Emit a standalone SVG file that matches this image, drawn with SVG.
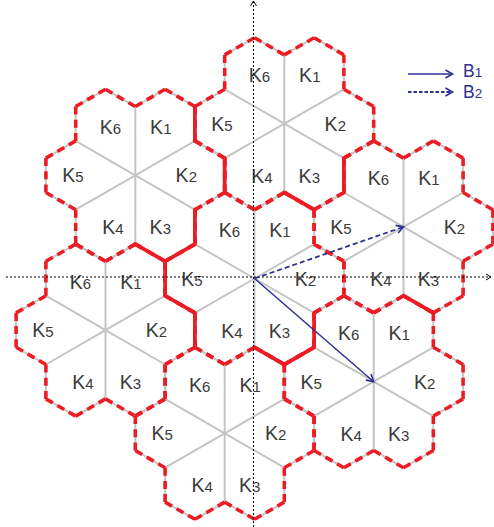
<svg xmlns="http://www.w3.org/2000/svg" width="494" height="527" viewBox="0 0 494 527">
<style>
.lbl{font-family:"Liberation Sans",Arial,sans-serif;font-size:19.5px;fill:#3a3a3a;text-anchor:middle}
.d{font-size:15px}
.leg{font-family:"Liberation Sans",Arial,sans-serif;font-size:17.5px;fill:#2e3192}
.legd{font-size:13.5px}
.solid{fill:none;stroke:#ec1c24;stroke-width:3.8;stroke-linecap:round;stroke-linejoin:round}
.axis{fill:none;stroke:#000;stroke-width:1;stroke-dasharray:2 2}
.vec{fill:none;stroke:#2e3192;stroke-width:1.5}
.vecd{fill:none;stroke:#2e3192;stroke-width:1.8;stroke-dasharray:5 3}
.legdash{fill:none;stroke:#2e3192;stroke-width:1.8;stroke-dasharray:3.5 2}
</style>
<defs>
<marker id="ah" viewBox="-10 -6 12 12" refX="0" refY="0" markerWidth="12" markerHeight="12" markerUnits="userSpaceOnUse" orient="auto">
<path d="M-7,-4 L0,0 L-7,4" fill="none" stroke="#2e3192" stroke-width="1.6" stroke-dasharray="none"/>
</marker>
<marker id="axh" viewBox="-8 -5 10 10" refX="0" refY="0" markerWidth="10" markerHeight="10" markerUnits="userSpaceOnUse" orient="auto">
<path d="M-5,-3 L0,0 L-5,3" fill="none" stroke="#000" stroke-width="1" stroke-dasharray="none"/>
</marker>
<path id="spokes" d="M0 0L0 -68.8M0 0L59.6 -34.4M0 0L59.6 34.4M0 0L0 68.8M0 0L-59.6 34.4M0 0L-59.6 -34.4" fill="none" stroke="#c4c4c4" stroke-width="2"/>
<polygon id="outline" points="0,-68.8 29.8,-86 59.6,-68.8 59.6,-34.4 89.4,-17.2 89.4,17.2 59.6,34.4 59.6,68.8 29.8,86 0,68.8 -29.8,86 -59.6,68.8 -59.6,34.4 -89.4,17.2 -89.4,-17.2 -59.6,-34.4 -59.6,-68.8 -29.8,-86" fill="none" stroke="#c4c4c4" stroke-width="2" stroke-linejoin="round"/>
<path id="dash" d="M0 -68.8L29.8 -86M29.8 -86L59.6 -68.8M59.6 -68.8L59.6 -34.4M59.6 -34.4L89.4 -17.2M89.4 -17.2L89.4 17.2M89.4 17.2L59.6 34.4M59.6 34.4L59.6 68.8M59.6 68.8L29.8 86M29.8 86L0 68.8M0 68.8L-29.8 86M-29.8 86L-59.6 68.8M-59.6 68.8L-59.6 34.4M-59.6 34.4L-89.4 17.2M-89.4 17.2L-89.4 -17.2M-89.4 -17.2L-59.6 -34.4M-59.6 -34.4L-59.6 -68.8M-59.6 -68.8L-29.8 -86M-29.8 -86L0 -68.8" fill="none" stroke="#ec1c24" stroke-width="3.6" stroke-dasharray="8 5.2"/>
</defs>
<rect x="0" y="0" width="494" height="527" fill="#fff"/>

<g id="cluster-center" transform="translate(254.5,278.5)">
<use href="#spokes"/><use href="#outline"/><use href="#dash"/>
<text class="lbl" x="-25" y="-41.5">K<tspan class="d">6</tspan></text>
<text class="lbl" x="25.5" y="-41.5">K<tspan class="d">1</tspan></text>
<text class="lbl" x="-62.5" y="7">K<tspan class="d">5</tspan></text>
<text class="lbl" x="51" y="7">K<tspan class="d">2</tspan></text>
<text class="lbl" x="-22.5" y="59">K<tspan class="d">4</tspan></text>
<text class="lbl" x="25" y="59">K<tspan class="d">3</tspan></text>
</g>

<g id="cluster-right" transform="translate(403.5,226.9)">
<use href="#spokes"/><use href="#outline"/><use href="#dash"/>
<text class="lbl" x="-25" y="-41.5">K<tspan class="d">6</tspan></text>
<text class="lbl" x="25.5" y="-41.5">K<tspan class="d">1</tspan></text>
<text class="lbl" x="-62.5" y="7">K<tspan class="d">5</tspan></text>
<text class="lbl" x="51" y="7">K<tspan class="d">2</tspan></text>
<text class="lbl" x="-22.5" y="59">K<tspan class="d">4</tspan></text>
<text class="lbl" x="25" y="59">K<tspan class="d">3</tspan></text>
</g>

<g id="cluster-top" transform="translate(284.3,123.7)">
<use href="#spokes"/><use href="#outline"/><use href="#dash"/>
<text class="lbl" x="-25" y="-41.5">K<tspan class="d">6</tspan></text>
<text class="lbl" x="25.5" y="-41.5">K<tspan class="d">1</tspan></text>
<text class="lbl" x="-62.5" y="7">K<tspan class="d">5</tspan></text>
<text class="lbl" x="51" y="7">K<tspan class="d">2</tspan></text>
<text class="lbl" x="-22.5" y="59">K<tspan class="d">4</tspan></text>
<text class="lbl" x="25" y="59">K<tspan class="d">3</tspan></text>
</g>

<g id="cluster-upper-left" transform="translate(135.3,175.3)">
<use href="#spokes"/><use href="#outline"/><use href="#dash"/>
<text class="lbl" x="-25" y="-41.5">K<tspan class="d">6</tspan></text>
<text class="lbl" x="25.5" y="-41.5">K<tspan class="d">1</tspan></text>
<text class="lbl" x="-62.5" y="7">K<tspan class="d">5</tspan></text>
<text class="lbl" x="51" y="7">K<tspan class="d">2</tspan></text>
<text class="lbl" x="-22.5" y="59">K<tspan class="d">4</tspan></text>
<text class="lbl" x="25" y="59">K<tspan class="d">3</tspan></text>
</g>

<g id="cluster-left" transform="translate(105.5,330.1)">
<use href="#spokes"/><use href="#outline"/><use href="#dash"/>
<text class="lbl" x="-25" y="-41.5">K<tspan class="d">6</tspan></text>
<text class="lbl" x="25.5" y="-41.5">K<tspan class="d">1</tspan></text>
<text class="lbl" x="-62.5" y="7">K<tspan class="d">5</tspan></text>
<text class="lbl" x="51" y="7">K<tspan class="d">2</tspan></text>
<text class="lbl" x="-22.5" y="59">K<tspan class="d">4</tspan></text>
<text class="lbl" x="25" y="59">K<tspan class="d">3</tspan></text>
</g>

<g id="cluster-bottom" transform="translate(224.7,433.3)">
<use href="#spokes"/><use href="#outline"/><use href="#dash"/>
<text class="lbl" x="-25" y="-41.5">K<tspan class="d">6</tspan></text>
<text class="lbl" x="25.5" y="-41.5">K<tspan class="d">1</tspan></text>
<text class="lbl" x="-62.5" y="7">K<tspan class="d">5</tspan></text>
<text class="lbl" x="51" y="7">K<tspan class="d">2</tspan></text>
<text class="lbl" x="-22.5" y="59">K<tspan class="d">4</tspan></text>
<text class="lbl" x="25" y="59">K<tspan class="d">3</tspan></text>
</g>

<g id="cluster-lower-right" transform="translate(373.7,381.7)">
<use href="#spokes"/><use href="#outline"/><use href="#dash"/>
<text class="lbl" x="-25" y="-41.5">K<tspan class="d">6</tspan></text>
<text class="lbl" x="25.5" y="-41.5">K<tspan class="d">1</tspan></text>
<text class="lbl" x="-62.5" y="7">K<tspan class="d">5</tspan></text>
<text class="lbl" x="51" y="7">K<tspan class="d">2</tspan></text>
<text class="lbl" x="-22.5" y="59">K<tspan class="d">4</tspan></text>
<text class="lbl" x="25" y="59">K<tspan class="d">3</tspan></text>
</g>

<g id="shared-edges">
<polyline class="solid" points="194.9,209.7 194.9,244.1 165.1,261.3 165.1,295.7 194.9,312.9 194.9,347.3"/>
<polyline class="solid" points="254.5,347.3 284.3,364.5 314.1,347.3 314.1,312.9"/>
<line class="solid" x1="314.1" y1="209.7" x2="284.3" y2="192.5"/>
<line class="solid" x1="224.7" y1="192.5" x2="224.7" y2="158.1"/>
<line class="solid" x1="343.9" y1="192.5" x2="343.9" y2="158.1"/>
<line class="solid" x1="194.9" y1="140.9" x2="194.9" y2="106.5"/>
<line class="solid" x1="135.3" y1="244.1" x2="165.1" y2="261.3"/>
<line class="solid" x1="403.5" y1="295.7" x2="433.3" y2="312.9"/>
</g>

<g id="axes">
<line class="axis" x1="253.5" y1="527" x2="253.5" y2="1" marker-end="url(#axh)"/>
<line class="axis" x1="6" y1="277" x2="491" y2="277" marker-end="url(#axh)"/>
</g>

<g id="connectors">
<line id="vec-B1" class="vec" x1="254.5" y1="278.5" x2="373.7" y2="381.7" marker-end="url(#ah)"/>
<line id="vec-B2" class="vecd" x1="254.5" y1="278.5" x2="403.5" y2="226.9" marker-end="url(#ah)"/>
</g>

<g id="legend">
<line class="vec" x1="408" y1="74" x2="452.5" y2="74" marker-end="url(#ah)"/>
<text class="leg" x="463" y="76.7">B<tspan class="legd">1</tspan></text>
<line class="legdash" x1="408" y1="92" x2="452.5" y2="92" marker-end="url(#ah)"/>
<text class="leg" x="463" y="98.3">B<tspan class="legd">2</tspan></text>
</g>
</svg>
